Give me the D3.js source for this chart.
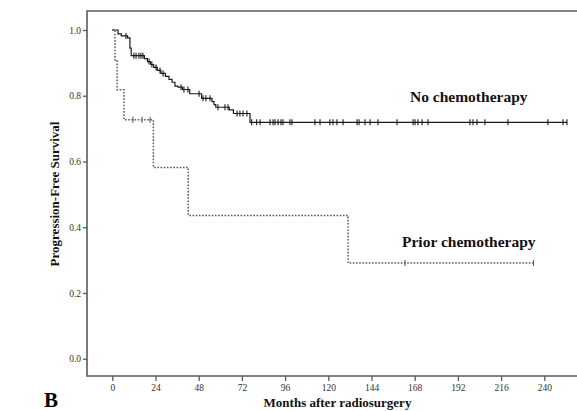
<!DOCTYPE html>
<html>
<head>
<meta charset="utf-8">
<script src="https://cdn.jsdelivr.net/npm/d3@7"></script>
<style>
  html, body { margin: 0; padding: 0; background: #fff; }
  svg { display: block; }
  text { font-family: "Liberation Serif", "Times New Roman", serif; }
</style>
</head>
<body>
<svg id="chart" width="577" height="411"></svg>
<script>
// Kaplan-Meier progression-free survival after radiosurgery, by chemotherapy history.

// No chemotherapy group: event times (months) and survival after each event
const noChemoEventMonths = [3.2, 5.0, 8.5, 9.8, 10.5, 17.8, 19.5, 21.3, 23.0, 25.0, 27.0, 29.5, 31.5,
  33.2, 34.8, 36.5, 39.0, 43.0, 49.6, 55.4, 56.5, 57.5, 65.0, 67.3, 76.5];
const noChemoSurvival = [0.988, 0.982, 0.976, 0.945, 0.922, 0.913, 0.904, 0.895, 0.886, 0.877, 0.868,
  0.859, 0.850, 0.841, 0.829, 0.826, 0.819, 0.806, 0.792, 0.782, 0.773, 0.765, 0.757, 0.746, 0.719];
const noChemoCensorMonths = [7.6, 12.0, 13.2, 14.8, 15.9, 17.0, 20.4, 22.0, 24.3, 26.5, 28.2, 38.2,
  39.8, 42.0, 48.2, 50.4, 52.0, 54.3, 58.7, 62.6, 64.3, 69.3, 70.9, 72.6, 74.8,
  77.4, 80.2, 82.1, 87.6, 89.3, 90.4, 92.1, 93.7, 94.8, 98.7, 99.8, 112.6, 115.4, 120.9, 122.6,
  124.8, 128.2, 136.0, 137.1, 140.4, 143.2, 147.6, 158.2, 167.1, 168.2, 169.8, 172.1, 175.4,
  198.7, 200.4, 202.6, 207.0, 219.8, 242.0, 250.4, 252.6];

// Prior chemotherapy group
const priorChemoEventMonths = [1.5, 2.7, 6.5, 22.8, 42.2, 131.0];
const priorChemoSurvival = [0.909, 0.818, 0.727, 0.582, 0.436, 0.291];
const priorChemoCensorMonths = [11.5, 16.5, 21.0, 162.6, 234.0];

// Axis ticks
const xTicks = [0, 24, 48, 72, 96, 120, 144, 168, 192, 216, 240];
const yTicks = [0.0, 0.2, 0.4, 0.6, 0.8, 1.0];

const svg = d3.select("#chart");

// Frame of the plotting area
const frame = { left: 87, top: 11, right: 580, bottom: 376 };

const x = d3.scaleLinear().domain([0, 240]).range([112.3, 544.3]);
const y = d3.scaleLinear().domain([0, 1]).range([358.7, 30]);

const axisColor = "#5a5a5a";

// Build step points for a survival curve
function stepPoints(events, surv, censors) {
  const lastTime = Math.max(events[events.length - 1], d3.max(censors));
  const pts = [[0, 1]];
  events.forEach((t, i) => pts.push([t, surv[i]]));
  pts.push([lastTime, surv[surv.length - 1]]);
  return pts;
}
function survivalAt(events, surv, t) {
  let s = 1;
  events.forEach((e, i) => { if (e <= t) s = surv[i]; });
  return s;
}

// Axes
const xAxis = d3.axisBottom(x).tickValues(xTicks).tickSize(5).tickSizeOuter(0).tickFormat(d3.format("d"));
const gx = svg.append("g").attr("transform", `translate(0,${frame.bottom})`).call(xAxis);
gx.select(".domain").remove();
gx.selectAll(".tick line").attr("stroke", axisColor).attr("stroke-width", 1.3);
gx.selectAll(".tick text").attr("y", 8).attr("font-size", 9.5)
  .attr("font-family", "Liberation Serif, serif").attr("fill", "#333");

const yAxis = d3.axisLeft(y).tickValues(yTicks).tickSize(4).tickSizeOuter(0).tickFormat(d3.format(".1f"));
const gy = svg.append("g").attr("transform", `translate(${frame.left},0)`).call(yAxis);
gy.select(".domain").remove();
gy.selectAll(".tick line").attr("stroke", axisColor).attr("stroke-width", 1.3);
gy.selectAll(".tick text").attr("x", -6).attr("font-size", 9.5)
  .attr("font-family", "Liberation Serif, serif").attr("fill", "#333");

// Frame lines: left, top, bottom
svg.append("path")
  .attr("d", `M${frame.right},${frame.top}H${frame.left}V${frame.bottom}H${frame.right}`)
  .attr("fill", "none").attr("stroke", axisColor).attr("stroke-width", 1.6);

const line = d3.line().x(d => x(d[0])).y(d => y(d[1])).curve(d3.curveStepAfter);

// No chemotherapy curve
svg.append("path")
  .datum(stepPoints(noChemoEventMonths, noChemoSurvival, noChemoCensorMonths))
  .attr("d", line).attr("fill", "none").attr("stroke", "#1a1a1a").attr("stroke-width", 1.2);
svg.append("g").selectAll("line").data(noChemoCensorMonths).join("line")
  .attr("x1", d => x(d)).attr("x2", d => x(d))
  .attr("y1", d => y(survivalAt(noChemoEventMonths, noChemoSurvival, d)) - 3)
  .attr("y2", d => y(survivalAt(noChemoEventMonths, noChemoSurvival, d)) + 3)
  .attr("stroke", "#1a1a1a").attr("stroke-width", 1.1);

// Prior chemotherapy curve (dotted)
svg.append("path")
  .datum(stepPoints(priorChemoEventMonths, priorChemoSurvival, priorChemoCensorMonths))
  .attr("d", line).attr("fill", "none").attr("stroke", "#5a5a5a").attr("stroke-width", 1.5)
  .attr("stroke-dasharray", "1.6,1.6");
svg.append("g").selectAll("line").data(priorChemoCensorMonths).join("line")
  .attr("x1", d => x(d)).attr("x2", d => x(d))
  .attr("y1", d => y(survivalAt(priorChemoEventMonths, priorChemoSurvival, d)) - 3)
  .attr("y2", d => y(survivalAt(priorChemoEventMonths, priorChemoSurvival, d)) + 3)
  .attr("stroke", "#5a5a5a").attr("stroke-width", 1.1);

// Curve labels
svg.append("text").attr("x", 410).attr("y", 102).attr("font-size", 15.5).attr("font-weight", "bold")
  .attr("fill", "#111").text("No chemotherapy");
svg.append("text").attr("x", 402).attr("y", 247).attr("font-size", 15.5).attr("font-weight", "bold")
  .attr("fill", "#111").text("Prior chemotherapy");

// Axis titles
svg.append("text").attr("x", 337.5).attr("y", 407).attr("text-anchor", "middle")
  .attr("font-size", 13).attr("font-weight", "bold").attr("fill", "#111")
  .text("Months after radiosurgery");
svg.append("text").attr("transform", "translate(59,194) rotate(-90)").attr("text-anchor", "middle")
  .attr("font-size", 13).attr("font-weight", "bold").attr("fill", "#111")
  .text("Progression-Free Survival");

// Panel letter
svg.append("text").attr("x", 44).attr("y", 407).attr("font-size", 21).attr("font-weight", "bold")
  .attr("fill", "#000").text("B");
</script>
</body>
</html>
